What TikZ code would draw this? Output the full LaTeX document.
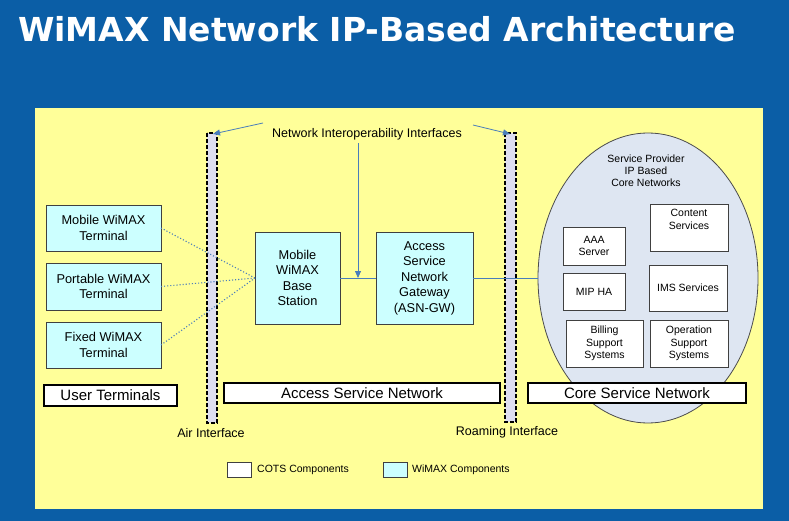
\documentclass[tikz,border=0pt]{standalone}
\usepackage{fontspec}
\setmainfont{Liberation Sans}
\newfontfamily\titlefont{DejaVu Sans}
\usetikzlibrary{shapes.geometric,arrows.meta}
\definecolor{slideblue}{RGB}{11,94,166}
\definecolor{panelyellow}{RGB}{255,255,153}
\definecolor{wimaxcyan}{RGB}{204,255,255}
\definecolor{corefill}{RGB}{222,230,242}
\definecolor{barlav}{RGB}{222,222,240}
\definecolor{linkblue}{RGB}{74,126,187}
\tikzset{
  wimaxbox/.style={draw=black!75, line width=0.8pt, fill=wimaxcyan, align=center, inner sep=0pt, outer sep=0pt, font=\fontsize{12.8}{15.5}\selectfont},
  cotsbox/.style={draw=black!75, line width=0.8pt, fill=white, align=center, inner sep=0pt, outer sep=0pt, font=\fontsize{10.5}{12.5}\selectfont},
  labelbox/.style={draw=black, line width=1.3pt, fill=white, inner sep=0pt, outer sep=0pt, font=\fontsize{15}{18}\selectfont},
  ifbar/.style={draw=black, dash pattern=on 4pt off 2pt, line width=1.3pt, fill=barlav},
  iflink/.style={draw=linkblue, line width=0.8pt},
  ifarrow/.style={iflink, -{Triangle[length=7pt,width=6pt]}},
  radio/.style={draw=linkblue, line width=1.1pt, dotted},
  plaintext/.style={inner sep=0pt, font=\fontsize{12.5}{15}\selectfont},
}
\begin{document}
\begin{tikzpicture}[x=1pt,y=-1pt]
  \useasboundingbox (0,0) rectangle (789,521);
  \fill[slideblue] (0,0) rectangle (789,521);
  \node[anchor=base west, inner sep=0pt, text=white, font=\titlefont\bfseries\fontsize{33}{36}\selectfont] (title) at (18,42) {WiMAX Network IP-Based Architecture};
  \fill[panelyellow] (35,108) rectangle (763,509);

  % interface bars
  \draw[ifbar] (207,133) rectangle (217,423);
  \draw[ifbar] (505,133) rectangle (516,422);
  \node[plaintext] (airtxt) at (211,433) {Air Interface};
  \node[plaintext] (roamtxt) at (507,432) {Roaming Interface};

  % user terminals
  \node[wimaxbox, minimum width=115, minimum height=46] (mobterm) at (103.5,228) {Mobile WiMAX\\Terminal};
  \node[wimaxbox, minimum width=115, minimum height=47] (portterm) at (103.5,286.5) {Portable WiMAX\\Terminal};
  \node[wimaxbox, minimum width=115, minimum height=46] (fixterm) at (103.5,345) {Fixed WiMAX\\Terminal};

  % access service network
  \node[wimaxbox, minimum width=85, minimum height=92] (bs) at (297.5,278) {Mobile\\WiMAX\\Base\\Station};
  \node[wimaxbox, minimum width=97, minimum height=92] (asngw) at (424.5,278) {Access\\Service\\Network\\Gateway\\(ASN-GW)};

  % core network
  \node[ellipse, draw=black!70, line width=0.8pt, fill=corefill, minimum width=220, minimum height=290, inner sep=0pt] (core) at (648,278) {};
  \node[align=center, inner sep=0pt, font=\fontsize{10.5}{12}\selectfont] (sptxt) at (646,171) {Service Provider\\IP Based\\Core Networks};
  \node[cotsbox, minimum width=62, minimum height=38] (aaa) at (594,246) {AAA\\Server};
  \node[cotsbox, minimum width=78, minimum height=47] (content) at (689,227.5) {Content\\Services\\[4pt]};
  \node[cotsbox, minimum width=62, minimum height=37] (mipha) at (594,291.5) {MIP HA};
  \node[cotsbox, minimum width=78, minimum height=46] (ims) at (688,288) {IMS Services};
  \node[cotsbox, minimum width=77, minimum height=47] (bss) at (604.5,343.5) {Billing\\Support\\Systems};
  \node[cotsbox, minimum width=78, minimum height=47] (oss) at (689,343.5) {Operation\\Support\\Systems};

  % section labels
  \node[labelbox, minimum width=133, minimum height=21] (utlabel) at (110.5,395.5) {User Terminals};
  \node[labelbox, minimum width=276, minimum height=20] (asnlabel) at (362,393) {Access Service Network};
  \node[labelbox, minimum width=218, minimum height=20] (csnlabel) at (637,393) {Core Service Network};

  % links
  \draw[radio] (mobterm.east) -- (bs.west);
  \draw[radio] (portterm.east) -- (bs.west);
  \draw[radio] (fixterm.east) -- (bs.west);
  \draw[iflink] (bs) -- (asngw);
  \draw[iflink] (asngw) -- (core);

  % interoperability interfaces
  \node[plaintext] (nii) at (367,134) {Network Interoperability Interfaces};
  \coordinate (join) at (358,278);
  \coordinate (airtail) at (263,123);
  \coordinate (airtip) at (213,134);
  \coordinate (roamtail) at (473,125);
  \coordinate (roamtip) at (510,134);
  \draw[ifarrow] (join |- nii.south) ++(0,3) -- (join);
  \draw[ifarrow] (airtail) -- (airtip);
  \draw[ifarrow] (roamtail) -- (roamtip);

  % legend
  \node[cotsbox, minimum width=24, minimum height=15] (cotskey) at (239,469.5) {};
  \node[anchor=west, inner sep=0pt, font=\fontsize{10.5}{12}\selectfont] (cotstxt) at (257,470) {COTS Components};
  \node[wimaxbox, minimum width=24, minimum height=15] (wimaxkey) at (395,469.5) {};
  \node[anchor=west, inner sep=0pt, font=\fontsize{10.5}{12}\selectfont] (wimaxtxt) at (412,470) {WiMAX Components};
\end{tikzpicture}
\end{document}
